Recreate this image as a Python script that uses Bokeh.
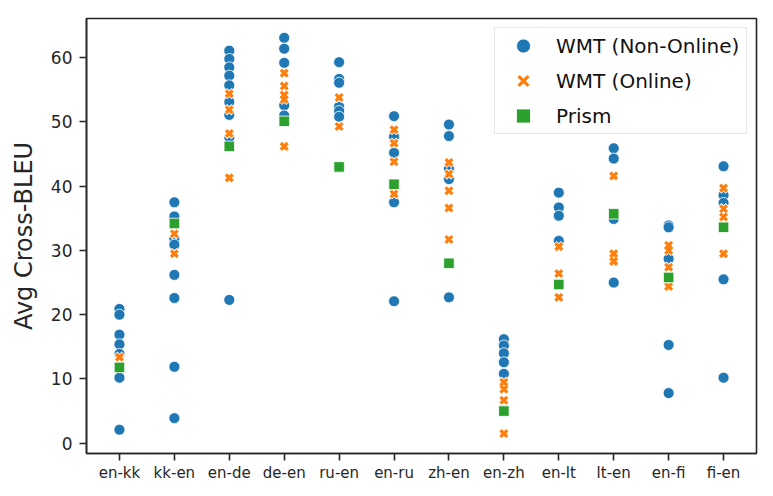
from bokeh.plotting import figure
from bokeh.models import FactorRange, Legend, LegendItem, ColumnDataSource
from bokeh.embed import file_html
from bokeh.resources import INLINE

pairs = ["en-kk", "kk-en", "en-de", "de-en", "ru-en", "en-ru",
         "zh-en", "en-zh", "en-lt", "lt-en", "en-fi", "fi-en"]

non_online = [
    [20.9, 20.0, 16.9, 15.4, 13.9, 10.2, 2.1],
    [37.5, 35.3, 31.8, 30.9, 26.2, 22.6, 11.9, 3.9],
    [61.1, 59.8, 58.5, 57.2, 55.7, 53.1, 51.1, 47.6, 22.3],
    [63.1, 61.4, 59.2, 52.6, 51.0],
    [59.3, 56.7, 56.1, 52.4, 51.7, 50.8, 43.0],
    [50.9, 47.7, 45.2, 37.5, 22.1],
    [49.6, 47.8, 42.7, 41.1, 22.7],
    [16.2, 15.2, 14.0, 12.6, 10.8],
    [39.0, 36.7, 35.4, 31.5],
    [45.9, 44.3, 34.9, 25.0],
    [33.9, 33.6, 28.7, 15.3, 7.8],
    [43.1, 38.6, 37.4, 25.5, 10.2],
]

online = [
    [13.4],
    [32.6, 29.5],
    [54.4, 51.9, 48.2, 41.3],
    [57.6, 55.6, 54.2, 53.5, 46.2],
    [53.8, 49.3],
    [48.8, 46.7, 43.8, 38.8],
    [43.7, 41.9, 39.3, 36.6, 31.7],
    [9.5, 8.4, 6.7, 1.5],
    [30.6, 26.4, 22.7],
    [41.6, 29.5, 28.3],
    [30.8, 30.0, 27.4, 24.4],
    [39.7, 36.5, 35.2, 29.5],
]

prism = [11.8, 34.2, 46.2, 50.1, 43.0, 40.3, 28.0, 5.0, 24.7, 35.7, 25.8, 33.6]

y_ticks = [0, 10, 20, 30, 40, 50, 60]


def flatten(groups):
    xs, ys = [], []
    for cat, vals in zip(pairs, groups):
        for v in vals:
            xs.append(cat)
            ys.append(v)
    return ColumnDataSource(dict(x=xs, y=ys))


src_non = flatten(non_online)
src_on = flatten(online)
src_pr = ColumnDataSource(dict(x=pairs, y=prism))

TEXT = "#262626"
FONT = "DejaVu Sans"

p = figure(width=765, height=488,
           x_range=FactorRange(factors=pairs, range_padding=0.1,
                               range_padding_units="absolute"),
           y_range=(-1.6, 66.1),
           output_backend="svg", toolbar_location=None,
           min_border_left=86, min_border_right=9,
           min_border_top=18, min_border_bottom=35)

p.xgrid.visible = False
p.ygrid.visible = False
p.outline_line_color = TEXT
p.outline_line_width = 1.6
p.outline_line_alpha = 1.0

p.yaxis.ticker = y_ticks
for ax in (p.xaxis[0], p.yaxis[0]):
    ax.axis_line_color = TEXT
    ax.axis_line_width = 1.6
    ax.major_tick_line_color = TEXT
    ax.major_tick_line_width = 1.6
    ax.major_tick_out = 7
    ax.major_tick_in = 0
    ax.minor_tick_out = 0
    ax.minor_tick_in = 0
    ax.major_label_text_font = FONT
    ax.major_label_text_color = TEXT

p.xaxis.major_label_text_font_size = "15px"
p.xaxis.major_label_standoff = 3
p.yaxis.major_label_text_font_size = "17px"
p.yaxis.major_label_standoff = 7
p.yaxis.axis_label = "Avg Cross-BLEU"
p.yaxis.axis_label_text_font = FONT
p.yaxis.axis_label_text_font_size = "24px"
p.yaxis.axis_label_text_font_style = "normal"
p.yaxis.axis_label_text_color = TEXT
p.yaxis.axis_label_standoff = 10

r_blue = p.scatter("x", "y", source=src_non, marker="circle", size=11,
                   fill_color="#1f77b4", line_color="white", line_width=0.8)
r_ow = p.scatter("x", "y", source=src_on, marker="x", size=11,
                 line_color="white", line_width=5)
r_o = p.scatter("x", "y", source=src_on, marker="x", size=9.5,
                line_color="#ff7f0e", line_width=3.3)
r_g = p.scatter("x", "y", source=src_pr, marker="square", size=10.5,
                fill_color="#2ca02c", line_color="white", line_width=0.8)

legend = Legend(items=[
    LegendItem(label="WMT (Non-Online)", renderers=[r_blue]),
    LegendItem(label="WMT (Online)", renderers=[r_ow, r_o]),
    LegendItem(label="Prism", renderers=[r_g]),
], location="top_right")
legend.label_text_font = FONT
legend.label_text_font_size = "20px"
legend.label_text_color = "#111111"
legend.border_line_color = "#cccccc"
legend.border_line_width = 1.2
legend.background_fill_color = "white"
legend.background_fill_alpha = 0.8
legend.padding = 0
legend.spacing = -7
legend.glyph_width = 56
legend.glyph_height = 35
legend.label_height = 28
legend.label_standoff = 5
legend.label_width = 190
legend.margin = 9
p.add_layout(legend)

open("out.html", "w").write(file_html(p, INLINE))
